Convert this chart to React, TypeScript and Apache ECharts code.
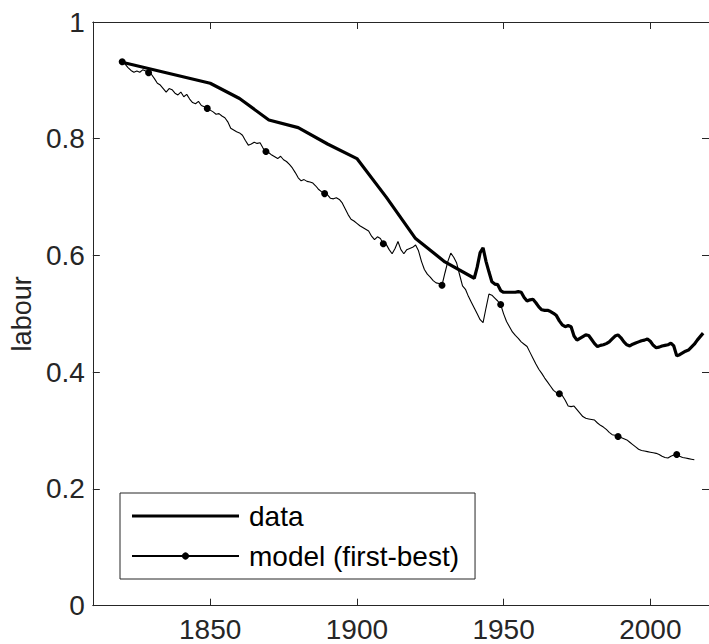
import React, { useEffect, useRef } from "react";
import * as echarts from "echarts";

const xTicks = [1850, 1900, 1950, 2000];

const dataYears = [
  1820, 1850, 1860, 1870, 1880, 1890, 1900, 1910, 1920, 1930, 1940,
  1941, 1942, 1943, 1944, 1945, 1946, 1947, 1948, 1949, 1950,
  1951, 1952, 1953, 1954, 1955, 1956, 1957, 1958, 1959, 1960,
  1961, 1962, 1963, 1964, 1965, 1966, 1967, 1968, 1969, 1970,
  1971, 1972, 1973, 1974, 1975, 1976, 1977, 1978, 1979, 1980,
  1981, 1982, 1983, 1984, 1985, 1986, 1987, 1988, 1989, 1990,
  1991, 1992, 1993, 1994, 1995, 1996, 1997, 1998, 1999, 2000,
  2001, 2002, 2003, 2004, 2005, 2006, 2007, 2008, 2009, 2010,
  2011, 2012, 2013, 2014, 2015, 2016, 2017, 2018,
];
const dataValues = [
  0.931, 0.895, 0.869, 0.832, 0.819, 0.791, 0.766, 0.7, 0.629, 0.589, 0.561,
  0.58, 0.605, 0.613, 0.59, 0.572, 0.555, 0.551, 0.55, 0.54, 0.537,
  0.537, 0.537, 0.537, 0.537, 0.538, 0.537, 0.528, 0.522, 0.524, 0.525,
  0.519, 0.512, 0.507, 0.506, 0.506, 0.504, 0.501, 0.497, 0.488, 0.481,
  0.478, 0.48, 0.478, 0.462, 0.455, 0.458, 0.461, 0.464, 0.463, 0.456,
  0.449, 0.444, 0.446, 0.447, 0.449, 0.452, 0.457, 0.462, 0.464, 0.459,
  0.452, 0.447, 0.445, 0.448, 0.45, 0.452, 0.454, 0.455, 0.457, 0.453,
  0.446, 0.442, 0.443, 0.445, 0.446, 0.447, 0.45, 0.445, 0.428, 0.43,
  0.433, 0.436, 0.438, 0.443, 0.448, 0.455, 0.461, 0.467,
];

const modelStartYear = 1820;
const modelValues = [
  // 1820-1829
  0.932, 0.928, 0.922, 0.917, 0.914, 0.916, 0.914, 0.918, 0.916, 0.913,
  // 1830-1839
  0.91, 0.903, 0.895, 0.892, 0.886, 0.88, 0.886, 0.884, 0.878, 0.875,
  // 1840-1849
  0.88, 0.872, 0.876, 0.868, 0.862, 0.86, 0.864, 0.857, 0.855, 0.852,
  // 1850-1859
  0.849, 0.846, 0.842, 0.843, 0.839, 0.836, 0.829, 0.818, 0.815, 0.812,
  // 1860-1869
  0.81, 0.806, 0.797, 0.789, 0.791, 0.794, 0.792, 0.793, 0.784, 0.778,
  // 1870-1879
  0.776, 0.772, 0.769, 0.766, 0.77, 0.764, 0.761, 0.756, 0.75, 0.742,
  // 1880-1889
  0.733, 0.728, 0.73, 0.727, 0.726, 0.724, 0.719, 0.713, 0.709, 0.706,
  // 1890-1899
  0.704, 0.698, 0.697, 0.699, 0.696, 0.69, 0.68, 0.67, 0.662, 0.659,
  // 1900-1909
  0.655, 0.651, 0.648, 0.645, 0.642, 0.633, 0.627, 0.632, 0.629, 0.62,
  // 1910-1919
  0.619, 0.61, 0.603, 0.612, 0.624, 0.61, 0.603, 0.61, 0.612, 0.614,
  // 1920-1929
  0.618, 0.608, 0.59, 0.576, 0.568, 0.563, 0.557, 0.553, 0.552, 0.549,
  // 1930-1939
  0.57, 0.59, 0.604, 0.597, 0.587, 0.567, 0.548, 0.542, 0.53, 0.52,
  // 1940-1949
  0.51, 0.5, 0.49, 0.485, 0.51, 0.534, 0.532, 0.527, 0.522, 0.516,
  // 1950-1959
  0.5, 0.487, 0.478, 0.469, 0.463, 0.458, 0.452, 0.448, 0.444, 0.434,
  // 1960-1969
  0.424, 0.414, 0.405, 0.398, 0.39, 0.383, 0.376, 0.369, 0.365, 0.363,
  // 1970-1979
  0.36, 0.352, 0.342, 0.341, 0.342, 0.336, 0.33, 0.324, 0.321, 0.32,
  // 1980-1989
  0.319, 0.318, 0.313, 0.309, 0.306, 0.302, 0.297, 0.293, 0.292, 0.29,
  // 1990-1999
  0.288, 0.286, 0.284, 0.28, 0.276, 0.272, 0.268, 0.266, 0.265, 0.264,
  // 2000-2009
  0.263, 0.262, 0.261, 0.259, 0.256, 0.254, 0.253, 0.256, 0.258, 0.259,
  // 2010-2015
  0.256, 0.254, 0.253, 0.252, 0.251, 0.25,
];
const markerYears = [1820, 1829, 1849, 1869, 1889, 1909, 1929, 1949, 1969, 1989, 2009];

const AXIS = "#262626";
const FONT = "Liberation Sans";
const FS = 28;

export default function App() {
  const ref = useRef<HTMLDivElement>(null);
  useEffect(() => {
    if (!ref.current) return;
    const chart = echarts.init(ref.current, null, { renderer: "svg" });
    const dataSeries = dataYears.map((y, i) => [y, dataValues[i]]);
    const modelSeries = modelValues.map((v, i) => {
      const yr = modelStartYear + i;
      return markerYears.includes(yr)
        ? { value: [yr, v] }
        : { value: [yr, v], symbol: "none" };
    });
    const tickCommon = { inside: true, length: 7, lineStyle: { color: AXIS, width: 1 } };
    chart.setOption({
      animation: false,
      backgroundColor: "#fff",
      grid: { left: 92.5, top: 22, right: -4, bottom: 38.3 },
      legend: {
        orient: "vertical",
        left: 120,
        top: 493,
        padding: [8, 16, 8, 11],
        itemWidth: 107,
        itemHeight: 9,
        itemGap: 10,
        borderColor: AXIS,
        borderWidth: 1,
        borderRadius: 0,
        backgroundColor: "#fff",
        textStyle: { fontFamily: FONT, fontSize: FS, color: "#000", lineHeight: 30, padding: [0, 0, 0, 5] },
        data: [
          { name: "data", icon: "path://M0,0H107V3.2H0Z", itemStyle: { color: "#000" } },
          { name: "model (first-best)" },
        ],
      },
      xAxis: [
        {
          type: "value",
          min: 1810,
          max: 2020,
          position: "bottom",
          axisLine: { show: true, onZero: false, lineStyle: { color: AXIS, width: 1 } },
          axisTick: { ...tickCommon, customValues: xTicks },
          axisLabel: {
            customValues: xTicks,
            formatter: (v: number) => String(v),
            fontFamily: FONT,
            fontSize: FS,
            color: AXIS,
            margin: 10,
          },
          splitLine: { show: false },
        },
        {
          type: "value",
          min: 1810,
          max: 2020,
          position: "top",
          axisLine: { show: true, onZero: false, lineStyle: { color: AXIS, width: 1 } },
          axisTick: { ...tickCommon, customValues: xTicks },
          axisLabel: { show: false },
          splitLine: { show: false },
        },
      ],
      yAxis: [
        {
          type: "value",
          min: 0,
          max: 1,
          interval: 0.2,
          position: "left",
          name: "labour",
          nameLocation: "middle",
          nameGap: 52,
          nameTextStyle: { fontFamily: FONT, fontSize: 27, color: AXIS },
          axisLine: { show: true, onZero: false, lineStyle: { color: AXIS, width: 1 } },
          axisTick: { ...tickCommon },
          axisLabel: { fontFamily: FONT, fontSize: FS, color: AXIS, margin: 8 },
          splitLine: { show: false },
        },
        {
          type: "value",
          min: 0,
          max: 1,
          interval: 0.2,
          position: "right",
          axisLine: { show: true, onZero: false, lineStyle: { color: AXIS, width: 1 } },
          axisTick: { ...tickCommon },
          axisLabel: { show: false },
          splitLine: { show: false },
        },
      ],
      series: [
        {
          name: "data",
          type: "line",
          data: dataSeries,
          symbol: "none",
          lineStyle: { color: "#000", width: 3.2 },
          itemStyle: { color: "#000" },
          z: 3,
        },
        {
          name: "model (first-best)",
          type: "line",
          data: modelSeries,
          symbol: "circle",
          symbolSize: 7,
          showAllSymbol: true,
          lineStyle: { color: "#000", width: 1.1 },
          itemStyle: { color: "#000", borderWidth: 0 },
          z: 2,
        },
      ],
    });
    return () => chart.dispose();
  }, []);
  return <div ref={ref} style={{ width: 709, height: 644, position: "absolute", left: 0, top: 0 }} />;
}
